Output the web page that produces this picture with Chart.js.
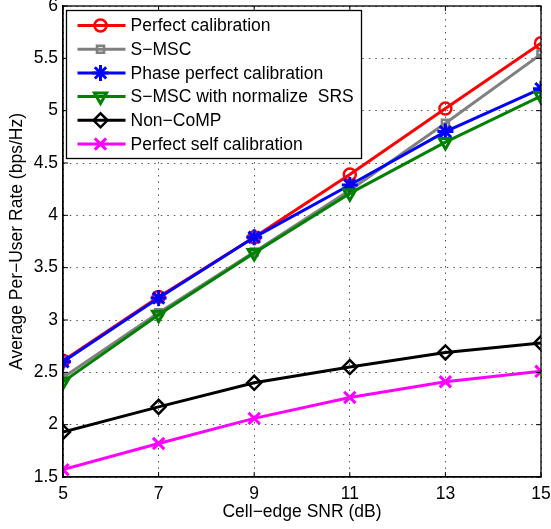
<!DOCTYPE html>
<html>
<head>
<meta charset="utf-8">
<title>Per-user rate vs cell-edge SNR</title>
<script src="https://cdn.jsdelivr.net/npm/chart.js@4"></script>
<style>
    html, body { margin: 0; padding: 0; background: #fff; }
    #wrap { width: 551px; height: 529px; position: relative; }
</style>
</head>
<body>
<div id="wrap"><canvas id="chart"></canvas></div>
<script>
// x positions (dB) and the rate curves (bps/Hz)
const snr = [5, 7, 9, 11, 13, 15];
const perfectCal = [2.61, 3.22, 3.79, 4.39, 5.02, 5.645];
const sMsc = [2.45, 3.07, 3.65, 4.24, 4.88, 5.54];
const phasePerfectCal = [2.60, 3.21, 3.79, 4.29, 4.80, 5.21];
const sMscNormSrs = [2.41, 3.05, 3.64, 4.21, 4.70, 5.14];
const nonComp = [1.93, 2.17, 2.40, 2.55, 2.69, 2.78];
const selfCal = [1.57, 1.82, 2.06, 2.26, 2.41, 2.51];

const seriesNames = [
    "Perfect calibration",
    "S\u2212MSC",
    "Phase perfect calibration",
    "S\u2212MSC with normalize  SRS",
    "Non\u2212CoMP",
    "Perfect self calibration"
];

const xTicks = [5, 7, 9, 11, 13, 15];
const yMin = 1.5, yMax = 6, yStep = 0.5;

const FONT = "'Liberation Sans', Arial, Helvetica, sans-serif";
const FSIZE = 17.5;

function pts(ys) {
    return snr.map((x, i) => ({ x: x, y: ys[i] }));
}

function series(i, ys, color, style, radius, extra) {
    return Object.assign({
        label: seriesNames[i],
        data: pts(ys),
        borderColor: color,
        backgroundColor: "rgba(0,0,0,0)",
        pointBorderColor: color,
        pointBackgroundColor: "rgba(0,0,0,0)",
        borderWidth: 3,
        pointBorderWidth: 2.5,
        pointStyle: style,
        pointRadius: radius,
        pointRotation: 0,
        tension: 0,
        order: 6 - i
    }, extra || {});
}

// box, inward ticks on all four sides (matlab style)
const frame = {
    id: "frame",
    afterDatasetsDraw(chart) {
        const ctx = chart.ctx, a = chart.chartArea;
        const xs = chart.scales.x, ys = chart.scales.y;
        ctx.save();
        ctx.setLineDash([]);
        ctx.strokeStyle = "#000";
        ctx.lineWidth = 1.3;
        ctx.strokeRect(a.left, a.top, a.right - a.left, a.bottom - a.top);
        ctx.lineWidth = 1;
        ctx.beginPath();
        xs.ticks.forEach(t => {
            const px = xs.getPixelForValue(t.value);
            ctx.moveTo(px, a.bottom); ctx.lineTo(px, a.bottom - 5);
            ctx.moveTo(px, a.top); ctx.lineTo(px, a.top + 5);
        });
        ys.ticks.forEach(t => {
            const py = ys.getPixelForValue(t.value);
            ctx.moveTo(a.left, py); ctx.lineTo(a.left + 5, py);
            ctx.moveTo(a.right, py); ctx.lineTo(a.right - 5, py);
        });
        ctx.stroke();
        ctx.restore();
    }
};

// legend box in the upper left corner of the plot
const boxLegend = {
    id: "boxLegend",
    afterDraw(chart) {
        const ctx = chart.ctx, a = chart.chartArea;
        const bx = a.left + 3.5, by = a.top + 4.5, bw = 295, bh = 148;
        ctx.save();
        ctx.setLineDash([]);
        ctx.fillStyle = "#fff";
        ctx.fillRect(bx, by, bw, bh);
        ctx.strokeStyle = "#000";
        ctx.lineWidth = 1.3;
        ctx.strokeRect(bx, by, bw, bh);
        chart.data.datasets.forEach((ds, i) => {
            const y = by + 15 + i * 23.7;
            ctx.strokeStyle = ds.borderColor;
            ctx.lineWidth = ds.borderWidth;
            ctx.beginPath();
            ctx.moveTo(bx + 11, y);
            ctx.lineTo(bx + 59, y);
            ctx.stroke();
            ctx.fillStyle = "rgba(0,0,0,0)";
            ctx.lineWidth = ds.pointBorderWidth;
            Chart.helpers.drawPoint(ctx, {
                pointStyle: ds.pointStyle,
                rotation: ds.pointRotation,
                radius: ds.pointRadius,
                borderWidth: ds.pointBorderWidth
            }, bx + 34, y);
            ctx.fillStyle = "#000";
            ctx.font = FSIZE + "px " + FONT;
            ctx.textBaseline = "middle";
            ctx.textAlign = "left";
            ctx.fillText(ds.label, bx + 64, y + 1);
        });
        ctx.restore();
    }
};

// dotted grid shared by both axes
const gridOpts = { color: "#555", lineWidth: 1, drawTicks: false };
const borderOpts = { display: true, color: "#000", width: 1.3, dash: [1.5, 5] };

new Chart(document.getElementById("chart"), {
    type: "line",
    data: {
        datasets: [
            series(0, perfectCal, "#ff0000", "circle", 6),
            series(1, sMsc, "#808080", "rect", 5),
            series(2, phasePerfectCal, "#0000ff", "star", 8, { pointBorderWidth: 3 }),
            series(3, sMscNormSrs, "#008000", "triangle", 7, { pointRotation: 180, pointBorderWidth: 3 }),
            series(4, nonComp, "#000000", "rectRot", 7),
            series(5, selfCal, "#ff00ff", "crossRot", 8, { pointBorderWidth: 3 })
        ]
    },
    options: {
        responsive: true,
        maintainAspectRatio: false,
        animation: false,
        layout: { autoPadding: false, padding: { left: 0, right: 10, top: 6, bottom: 0 } },
        plugins: {
            legend: { display: false },
            tooltip: { enabled: false }
        },
        scales: {
            x: {
                type: "linear",
                min: xTicks[0],
                max: xTicks[xTicks.length - 1],
                afterBuildTicks: s => { s.ticks = xTicks.map(v => ({ value: v })); },
                afterFit: s => { s.height = 52; s.paddingLeft = 0; s.paddingRight = 0; },
                grid: gridOpts,
                border: borderOpts,
                ticks: {
                    padding: 7,
                    color: "#000",
                    font: { family: FONT, size: FSIZE },
                    maxRotation: 0,
                    callback: v => String(v)
                },
                title: {
                    display: true,
                    text: "Cell\u2212edge SNR (dB)",
                    color: "#000",
                    font: { family: FONT, size: FSIZE },
                    padding: { top: 0, bottom: 6 }
                }
            },
            y: {
                min: yMin,
                max: yMax,
                afterFit: s => { s.width = 63; s.paddingTop = 0; s.paddingBottom = 0; },
                grid: gridOpts,
                border: borderOpts,
                ticks: {
                    stepSize: yStep,
                    padding: 5,
                    color: "#000",
                    font: { family: FONT, size: FSIZE },
                    callback: v => String(v)
                },
                title: {
                    display: true,
                    text: "Average Per\u2212User Rate (bps/Hz)",
                    color: "#000",
                    font: { family: FONT, size: FSIZE },
                    padding: { top: 7, bottom: 0 }
                }
            }
        }
    },
    plugins: [frame, boxLegend]
});
</script>
</body>
</html>
